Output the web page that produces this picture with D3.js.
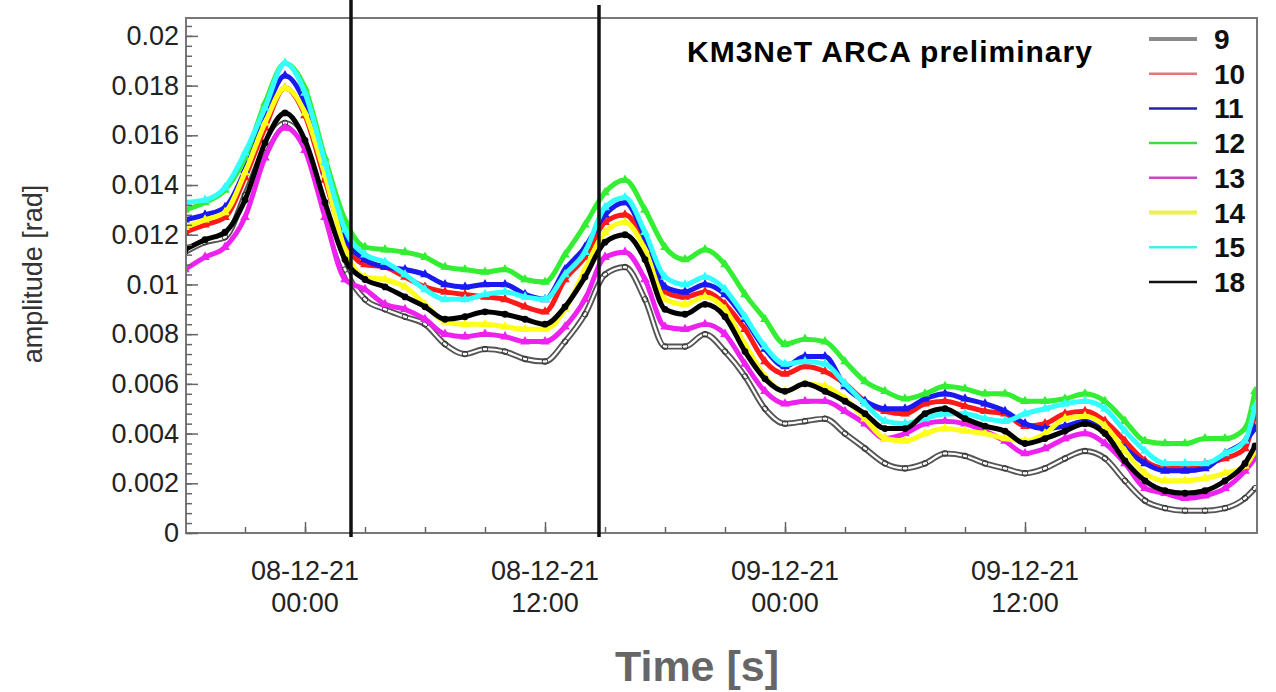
<!DOCTYPE html>
<html>
<head>
  <meta charset="utf-8">
  <script src="https://d3js.org/d3.v7.min.js"></script>
  <style>
      body { margin: 0; background-color: #ffffff; }
      text { font-family: "Liberation Sans", Arial, Helvetica, sans-serif; }
  </style>
</head>
<body>
<script>
// hours after 07-12-21 18:00
const hours = [0,1,2,3,4,5,6,7,8,9,10,11,12,13,14,15,16,17,18,19,20,21,22,23,24,25,26,27,28,29,
  30,31,32,33,34,35,36,37,38,39,40,41,42,43,44,45,46,47,48,49,50,51,52,53,53.5];

// amplitude [rad] per detection unit
const s9  = [0.0113,0.0117,0.0119,0.0136,0.0155,0.0165,0.0156,0.0130,0.0106,0.0094,
  0.0090,0.0087,0.0084,0.0076,0.0072,0.0074,0.0073,0.0070,0.0069,0.0077,
  0.0088,0.0104,0.0107,0.0094,0.0075,0.0075,0.0080,0.0073,0.0063,0.0050,
  0.0044,0.0045,0.0046,0.0040,0.0034,0.0028,0.0026,0.0028,0.0032,0.0031,
  0.0028,0.0026,0.0024,0.0026,0.0030,0.0033,0.0030,0.0021,0.0013,0.0010,
  0.0009,0.0009,0.0010,0.0014,0.0018];
const s10 = [0.0121,0.0124,0.0127,0.0143,0.0163,0.0179,0.0168,0.0142,0.0117,0.0108,
  0.0107,0.0103,0.0099,0.0097,0.0096,0.0095,0.0094,0.0091,0.0089,0.0102,
  0.0111,0.0125,0.0128,0.0117,0.0097,0.0095,0.0097,0.0092,0.0082,0.0069,
  0.0064,0.0067,0.0065,0.0060,0.0053,0.0049,0.0048,0.0052,0.0053,0.0051,
  0.0049,0.0048,0.0043,0.0044,0.0048,0.0049,0.0045,0.0037,0.0029,0.0026,
  0.0026,0.0028,0.0030,0.0034,0.0048];
const s11 = [0.0126,0.0128,0.0131,0.0146,0.0169,0.0184,0.0173,0.0146,0.0119,0.0110,
  0.0107,0.0106,0.0104,0.0100,0.0099,0.0100,0.0100,0.0096,0.0094,0.0106,
  0.0115,0.0128,0.0133,0.0119,0.0099,0.0097,0.0100,0.0096,0.0086,0.0074,
  0.0067,0.0071,0.0071,0.0059,0.0053,0.0050,0.0050,0.0054,0.0056,0.0054,
  0.0052,0.0049,0.0044,0.0042,0.0043,0.0045,0.0041,0.0034,0.0028,0.0025,
  0.0025,0.0026,0.0032,0.0037,0.0042];
const s12 = [0.0130,0.0133,0.0138,0.0151,0.0173,0.0189,0.0179,0.0151,0.0126,0.0115,
  0.0114,0.0113,0.0111,0.0107,0.0106,0.0105,0.0106,0.0102,0.0101,0.0112,
  0.0124,0.0137,0.0142,0.0130,0.0115,0.0110,0.0114,0.0108,0.0096,0.0086,
  0.0076,0.0078,0.0077,0.0069,0.0061,0.0057,0.0054,0.0056,0.0059,0.0058,
  0.0056,0.0056,0.0053,0.0053,0.0054,0.0056,0.0053,0.0045,0.0037,0.0036,
  0.0036,0.0038,0.0038,0.0042,0.0057];
const s13 = [0.0106,0.0111,0.0115,0.0127,0.0151,0.0163,0.0154,0.0127,0.0102,0.0098,
  0.0092,0.0090,0.0086,0.0080,0.0079,0.0080,0.0079,0.0077,0.0077,0.0083,
  0.0094,0.0111,0.0113,0.0102,0.0083,0.0082,0.0084,0.0080,0.0068,0.0057,
  0.0052,0.0053,0.0053,0.0049,0.0044,0.0038,0.0040,0.0044,0.0045,0.0044,
  0.0041,0.0037,0.0032,0.0034,0.0038,0.0040,0.0036,0.0028,0.0018,0.0016,
  0.0014,0.0015,0.0018,0.0025,0.0030];
const s14 = [0.0123,0.0126,0.0129,0.0145,0.0165,0.0179,0.0169,0.0144,0.0114,0.0103,
  0.0102,0.0099,0.0092,0.0085,0.0084,0.0084,0.0083,0.0082,0.0082,0.0090,
  0.0106,0.0121,0.0125,0.0114,0.0094,0.0092,0.0095,0.0090,0.0076,0.0063,
  0.0057,0.0060,0.0059,0.0054,0.0046,0.0038,0.0037,0.0040,0.0042,0.0041,
  0.0040,0.0038,0.0037,0.0040,0.0046,0.0047,0.0043,0.0033,0.0024,0.0021,
  0.0021,0.0022,0.0024,0.0027,0.0033];
const s15 = [0.0133,0.0134,0.0139,0.0153,0.0171,0.0189,0.0177,0.0149,0.0122,0.0112,
  0.0109,0.0104,0.0098,0.0094,0.0094,0.0096,0.0097,0.0095,0.0094,0.0104,
  0.0113,0.0131,0.0135,0.0121,0.0103,0.0100,0.0103,0.0098,0.0087,0.0075,
  0.0068,0.0069,0.0068,0.0060,0.0052,0.0045,0.0044,0.0046,0.0048,0.0048,
  0.0046,0.0045,0.0048,0.0050,0.0052,0.0053,0.0050,0.0041,0.0033,0.0028,
  0.0028,0.0028,0.0032,0.0037,0.0051];
const s18 = [0.0114,0.0118,0.0121,0.0134,0.0157,0.0169,0.0158,0.0133,0.0110,0.0102,
  0.0099,0.0095,0.0091,0.0086,0.0087,0.0089,0.0088,0.0086,0.0084,0.0091,
  0.0103,0.0117,0.0120,0.0110,0.0090,0.0088,0.0092,0.0087,0.0073,0.0062,
  0.0057,0.0060,0.0057,0.0053,0.0048,0.0042,0.0042,0.0048,0.0050,0.0046,
  0.0043,0.0041,0.0036,0.0038,0.0041,0.0044,0.0040,0.0029,0.0021,0.0017,
  0.0016,0.0017,0.0021,0.0028,0.0035];

const duNames = ["9", "10", "11", "12", "13", "14", "15", "18"];
const yTicks = [0, 0.002, 0.004, 0.006, 0.008, 0.01, 0.012, 0.014, 0.016, 0.018, 0.02];
const xTickTimes = ["2021-12-08T00:00", "2021-12-08T12:00", "2021-12-09T00:00", "2021-12-09T12:00"];
const eventTimes = ["2021-12-08T02:18", "2021-12-08T14:42"];

var W = 1276, H = 692;
var L = 186, R = 1257, T = 18, B = 533;
var parse = d3.timeParse("%Y-%m-%dT%H:%M");
var t0 = parse("2021-12-07T18:00");

var x = d3.scaleTime()
    .domain([parse("2021-12-07T18:03"), parse("2021-12-09T23:36")])
    .range([L, R]);
var y = d3.scaleLinear().domain([0, 0.02072]).range([B, T]);

var svg = d3.select("body").append("svg")
    .attr("width", W).attr("height", H);

svg.append("defs").append("clipPath").attr("id", "plot")
    .append("rect").attr("x", L).attr("y", T).attr("width", R - L).attr("height", B - T);

// styles for each DU (same order as duNames)
var styles = [
  {data: s9,  color: "#3a3a3a", legend: "#8a8a8a", mark: "open"},
  {data: s10, color: "#ff1a1a", legend: "#e07a7a", mark: "tri"},
  {data: s11, color: "#1a1af0", legend: "#2424a8", mark: "tri"},
  {data: s12, color: "#33ee33", legend: "#3ddd3d", mark: "tri"},
  {data: s13, color: "#ee22ee", legend: "#cc44cc", mark: "tri"},
  {data: s14, color: "#ffff1a", legend: "#eeee55", mark: "tri"},
  {data: s15, color: "#33ffff", legend: "#44eeee", mark: "tri"},
  {data: s18, color: "#000000", legend: "#111111", mark: "dot"}
];

var line = d3.line()
    .x(function(d) { return x(d.t); })
    .y(function(d) { return y(d.v); })
    .curve(d3.curveMonotoneX);

var plot = svg.append("g").attr("clip-path", "url(#plot)");
var tri = d3.symbol().type(d3.symbolTriangle).size(40);

styles.forEach(function(s, i) {
  var pts = hours.map(function(h, k) {
    return {t: d3.timeMinute.offset(t0, h * 60), v: s.data[k]};
  });
  var g = plot.append("g").attr("class", "du" + duNames[i]);
  if (s.mark == "open") {
    g.append("path").datum(pts).attr("d", line)
      .attr("fill", "none").attr("stroke", "#555").attr("stroke-width", 6);
    g.append("path").datum(pts).attr("d", line)
      .attr("fill", "none").attr("stroke", "#fff").attr("stroke-width", 2.2);
    g.selectAll("circle").data(pts).enter().append("circle")
      .attr("cx", function(d) { return x(d.t); })
      .attr("cy", function(d) { return y(d.v); })
      .attr("r", 2.8).attr("fill", "none").attr("stroke", "#333").attr("stroke-width", 1);
  } else {
    g.append("path").datum(pts).attr("d", line)
      .attr("fill", "none").attr("stroke", s.color).attr("stroke-width", 5);
    if (s.mark == "dot") {
      g.selectAll("circle").data(pts).enter().append("circle")
        .attr("cx", function(d) { return x(d.t); })
        .attr("cy", function(d) { return y(d.v); })
        .attr("r", 3.4).attr("fill", s.color);
    } else {
      g.selectAll("path.m").data(pts).enter().append("path").attr("class", "m")
        .attr("d", tri)
        .attr("transform", function(d) { return "translate(" + x(d.t) + "," + y(d.v) + ")"; })
        .attr("fill", s.color);
    }
  }
});

// frame
svg.append("rect").attr("x", L).attr("y", T).attr("width", R - L).attr("height", B - T)
    .attr("fill", "none").attr("stroke", "#777").attr("stroke-width", 2);

// y axis
var yAxis = svg.append("g").attr("transform", "translate(" + L + ",0)");
yAxis.call(d3.axisLeft(y).tickValues(d3.range(0, 0.0207, 0.0004)).tickSize(-6).tickFormat(""));
yAxis.append("g").call(d3.axisLeft(y).tickValues(yTicks).tickSize(-12).tickPadding(7)
    .tickFormat(d3.format("~g")));
yAxis.selectAll(".domain").remove();
yAxis.selectAll("line").attr("stroke", "#666").attr("stroke-width", 1.5);
yAxis.selectAll("text").attr("font-size", 27).attr("fill", "#222")
    .attr("font-family", "'Liberation Sans', Arial, sans-serif");

// x axis
var xAxis = svg.append("g").attr("transform", "translate(0," + B + ")");
xAxis.call(d3.axisBottom(x).ticks(d3.timeHour.every(3)).tickSize(-6).tickFormat(""));
xAxis.append("g").call(d3.axisBottom(x).tickValues(xTickTimes.map(parse)).tickSize(-11).tickFormat(""));
xAxis.selectAll(".domain").remove();
xAxis.selectAll("line").attr("stroke", "#666").attr("stroke-width", 1.5);

var fmtDay = d3.timeFormat("%d-%m-%y"), fmtHour = d3.timeFormat("%H:%M");
xTickTimes.map(parse).forEach(function(d) {
  var t = svg.append("text").attr("x", x(d)).attr("y", 580)
      .attr("text-anchor", "middle").attr("font-size", 27).attr("fill", "#222");
  t.append("tspan").attr("x", x(d)).text(fmtDay(d));
  t.append("tspan").attr("x", x(d)).attr("dy", 32).text(fmtHour(d));
});

// event markers
svg.selectAll("line.event").data(eventTimes.map(parse)).enter().append("line")
    .attr("class", "event")
    .attr("x1", function(d) { return x(d); }).attr("x2", function(d) { return x(d); })
    .attr("y1", function(d, i) { return i == 0 ? 0 : 5; }).attr("y2", 537)
    .attr("stroke", "#111").attr("stroke-width", 3.5);

// titles
svg.append("text").attr("transform", "translate(42,274) rotate(-90)")
    .attr("text-anchor", "middle").attr("font-size", 27).attr("fill", "#333")
    .text("amplitude [rad]");
svg.append("text").attr("x", 697).attr("y", 681).attr("text-anchor", "middle")
    .attr("font-size", 43).attr("font-weight", "bold").attr("fill", "#666")
    .text("Time [s]");
svg.append("text").attr("x", 687).attr("y", 62)
    .attr("font-size", 30).attr("font-weight", "bold").attr("fill", "#000")
    .attr("letter-spacing", 1)
    .text("KM3NeT ARCA preliminary");

// legend
var leg = svg.append("g");
styles.forEach(function(s, i) {
  var ly = 39 + i * 34.7;
  leg.append("line").attr("x1", 1149).attr("x2", 1197).attr("y1", ly).attr("y2", ly)
      .attr("stroke", s.legend).attr("stroke-width", (i == 0 || i == 5) ? 4 : 2.5);
  leg.append("text").attr("x", 1214).attr("y", ly + 10).attr("font-size", 28)
      .attr("font-weight", "bold").attr("fill", "#111").text(duNames[i]);
});
</script>
</body>
</html>
